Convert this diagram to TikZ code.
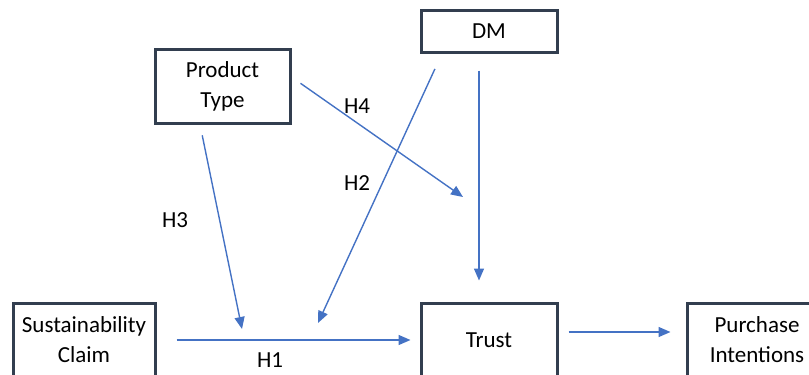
\documentclass[tikz,border=0pt]{standalone}
\usepackage{fontspec}
\setmainfont{Carlito}
\usetikzlibrary{arrows.meta}
\definecolor{boxline}{RGB}{50,62,79}
\definecolor{arrowblue}{RGB}{68,114,196}

\begin{document}
\begin{tikzpicture}[x=1pt, y=-1pt,
    box/.style={draw=boxline, line width=3pt, align=center, inner sep=0pt,
      font=\fontsize{23}{30}\selectfont},
    hlabel/.style={font=\fontsize{23}{30}\selectfont},
    link/.style={draw=arrowblue, line width=1.4pt, -{Triangle[length=12pt, width=10pt]}}]
      \useasboundingbox (0, 0) rectangle (809, 375);

      \node[box, minimum width=136pt, minimum height=42pt] (dm) at (489, 31) {DM};
      \node[box, minimum width=135pt, minimum height=74pt] (prod) at (222.5, 86) {Product\\Type};
      \node[box, minimum width=142pt, minimum height=74pt] (claim) at (84, 340) {Sustainability\\Claim};
      \node[box, minimum width=136pt, minimum height=74pt] (trust) at (489, 340) {Trust};
      \node[box, minimum width=140pt, minimum height=74pt] (purch) at (757, 340) {Purchase\\Intentions};

      \coordinate (h2end) at (318, 323);
      \coordinate (h3end) at (242, 329);
      \coordinate (h4end) at (463, 197);

      \draw[link, shorten <=20pt, shorten >=9pt] (claim) -- (trust);
      \draw[link, shorten <=10pt, shorten >=15pt] ([yshift=8pt]trust.east) -- ([yshift=8pt]purch.west);
      \draw[link, shorten <=17pt, shorten >=21pt] ([xshift=-10pt]dm.south) -- ([xshift=-10pt]trust.north);
      \draw[link, shorten <=17pt] ([xshift=-47pt]dm.south) -- (h2end);
      \draw[link, shorten <=11pt] ([xshift=-22.5pt]prod.south) -- (h3end);
      \draw[link, shorten <=11pt] ([yshift=9pt]prod.east) -- (h4end);

      \node[hlabel] (h1) at (270, 360) {H1};
      \node[hlabel] (h2) at (357, 183) {H2};
      \node[hlabel] (h3) at (175, 220) {H3};
      \node[hlabel] (h4) at (357, 106) {H4};
    \end{tikzpicture}
\end{document}
